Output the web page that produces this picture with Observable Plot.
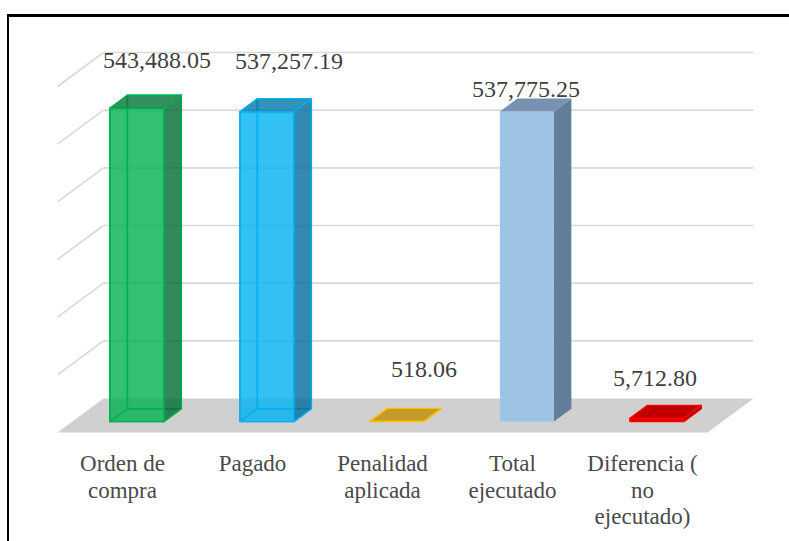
<!DOCTYPE html>
<html><head><meta charset="utf-8">
<script src="https://cdn.jsdelivr.net/npm/d3@7"></script>
<script src="https://cdn.jsdelivr.net/npm/@observablehq/plot@0.6"></script>
<style>
html,body{margin:0;padding:0;background:#fff;font-family:"Liberation Serif",serif;}
#wrap{position:relative;width:789px;height:541px;overflow:hidden;}
#frame{position:absolute;left:7px;top:14px;width:900px;height:700px;border-left:2px solid #000;border-top:3px solid #000;}
#chart{position:absolute;left:0;top:0;}
#chart svg text{font-family:"Liberation Serif",serif;}
</style></head><body>
<div id="wrap"><div id="frame"></div><div id="chart"></div></div>
<script>
// ---- data ----
const categories = ["Orden de\ncompra", "Pagado", "Penalidad\naplicada", "Total\nejecutado", "Diferencia (\nno\nejecutado)"];
const values = [543488.05, 537257.19, 518.06, 537775.25, 5712.80];
const valueLabels = ["543,488.05", "537,257.19", "518.06", "537,775.25", "5,712.80"];
const gridTicks = [100000, 200000, 300000, 400000, 500000, 600000];
const yMax = 600000;

// ---- styles ----
const palette = [
  {edge: "#00B050", front: "rgba(0,176,80,0.8)", side: "rgba(0,108,50,0.8)", top: "rgba(0,118,56,0.8)", see: true},
  {edge: "#00B0F0", front: "rgba(0,176,240,0.8)", side: "rgba(0,108,156,0.8)", top: "rgba(0,120,170,0.8)", see: true},
  {edge: "#FFC000", front: "#C49A2A", side: "#A07C1C", top: "#C49A2A", see: false},
  {edge: "none", front: "#9DC3E6", side: "#627E9A", top: "#7791B0", see: false},
  {edge: "#FF0000", front: "#E00000", side: "#A00000", top: "#C00000", see: false}
];
// label offsets from bar front-top centre, in px
const labelOffsets = [[20, -40], [22, -43], [27, -44], [-1, -15], [-2, -32]];
const FONT = "Liberation Serif";

// ---- geometry (3D oblique projection in data units) ----
const W = 789, H = 541, mL = 57, mR = 82, mT = 86, mB = 109;
const slotPx = (W - mL - mR) / categories.length;
const unitPerPx = yMax / (H - mT - mB);
const DX = 46 / slotPx;          // depth offset along x (slot units)
const DY = 34 * unitPerPx;       // depth offset along y (value units)
const P = (c, d, v) => ({x: c + d * DX, y: v + d * DY});
const d0 = 0.32, d1 = 0.70, bx0 = 0.29, bx1 = 0.705;

const outlines = [], faces = [];
values.forEach((v, i) => {
  const s = palette[i], x0 = i + bx0, x1 = i + bx1;
  const poly = (arr, pts, id, fill, stroke) => pts.forEach(p => arr.push({...P(...p), id: i + id, fill, stroke}));
  if (s.see) {
    poly(outlines, [[x0,d1,0],[x1,d1,0],[x1,d1,v],[x0,d1,v]], "back", "none", s.edge);
    poly(outlines, [[x0,d0,0],[x0,d1,0],[x0,d1,v],[x0,d0,v]], "left", "none", s.edge);
    poly(outlines, [[x0,d0,0],[x1,d0,0],[x1,d1,0],[x0,d1,0]], "bot", "none", s.edge);
  }
  poly(faces, [[x1,d0,0],[x1,d1,0],[x1,d1,v],[x1,d0,v]], "right", s.side, s.edge);
  poly(faces, [[x0,d0,0],[x1,d0,0],[x1,d0,v],[x0,d0,v]], "front", s.front, s.edge);
  poly(faces, [[x0,d0,v],[x1,d0,v],[x1,d1,v],[x0,d1,v]], "top", s.top, s.edge);
});
const floor = [[0,0,0],[categories.length,0,0],[categories.length,1,0],[0,1,0]].map(p => ({...P(...p), id: "floor"}));

const labels = values.map((v, i) => {
  const c = P(i + (bx0 + bx1) / 2, d0, v);
  return {x: c.x + labelOffsets[i][0] / slotPx, y: c.y - labelOffsets[i][1] * unitPerPx, text: valueLabels[i]};
});

const chart = Plot.plot({
  width: W, height: H,
  marginLeft: mL, marginRight: mR, marginTop: mT, marginBottom: mB,
  x: {domain: [0, categories.length], axis: null},
  y: {domain: [0, yMax], axis: null},
  color: {type: "identity"},
  style: "background:transparent;",
  marks: [
    Plot.line(floor, {x: "x", y: "y", z: "id", fill: "#d0d0d0", stroke: "none", curve: "linear-closed"}),
    Plot.link(gridTicks, {x1: DX, y1: d => d + DY, x2: categories.length + DX, y2: d => d + DY, stroke: "#d9d9d9", strokeWidth: 1.6}),
    Plot.link(gridTicks, {x1: DX, y1: d => d + DY, x2: 0, y2: d => d, stroke: "#d9d9d9", strokeWidth: 1.6}),
    Plot.line(outlines, {x: "x", y: "y", z: "id", fill: "none", stroke: "stroke", strokeWidth: 1.4, curve: "linear-closed"}),
    Plot.line(faces, {x: "x", y: "y", z: "id", fill: "fill", stroke: "stroke", strokeWidth: 1.4, curve: "linear-closed"}),
    Plot.text(labels, {x: "x", y: "y", text: "text", textAnchor: "middle", lineAnchor: "bottom", fill: "#404040", fontSize: 24, fontFamily: FONT}),
    Plot.text(categories.map((c, i) => ({x: i + 0.5, t: c})), {
      x: "x", y: 0, dy: 20, text: "t", textAnchor: "middle", lineAnchor: "top",
      fontSize: 23, fontFamily: FONT, lineHeight: 1.15, fill: "#4a4a4a"
    })
  ]
});
document.getElementById("chart").appendChild(chart);
</script>
</body></html>
